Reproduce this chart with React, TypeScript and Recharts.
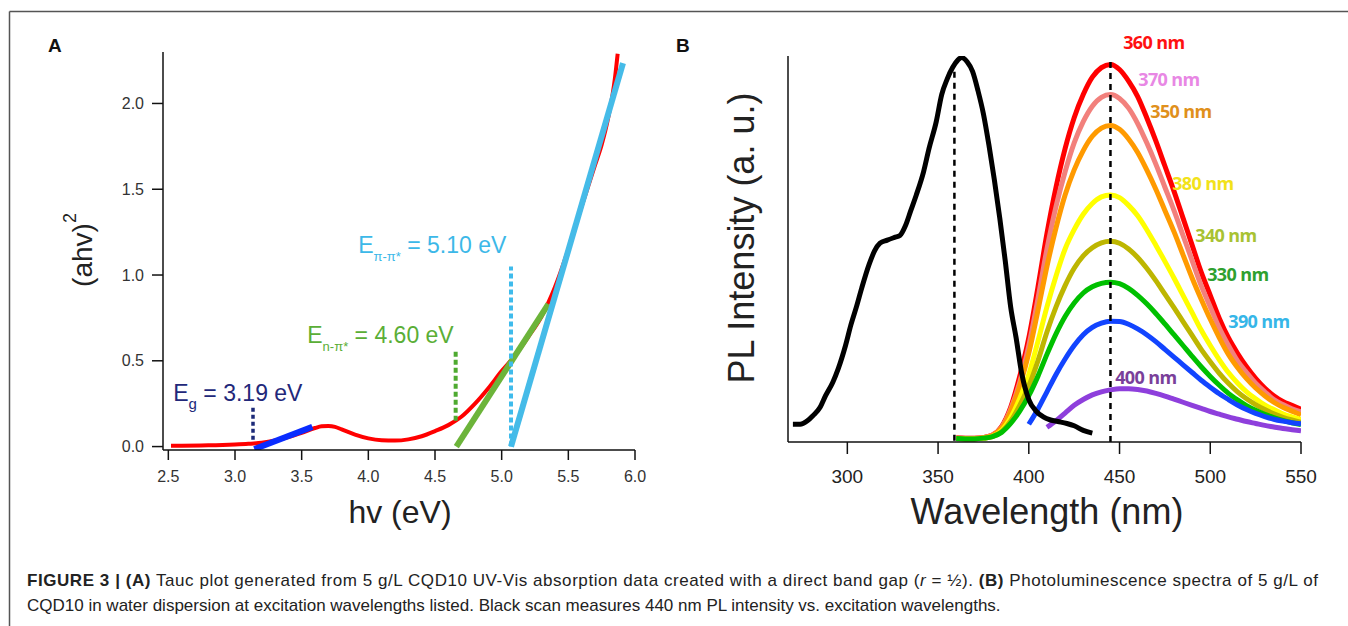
import React from 'react';
import { LineChart, Line, XAxis, YAxis, ReferenceLine, ReferenceDot, Label } from 'recharts';

// ---------- Panel A : Tauc plot ----------
const taucHv = [2.52, 2.6, 2.8, 3.0, 3.1, 3.2, 3.3, 3.4, 3.5, 3.6, 3.65, 3.7, 3.75, 3.8, 3.9, 4.0, 4.1, 4.2, 4.3, 4.4, 4.5, 4.6, 4.7, 4.8, 4.9, 5.0, 5.1, 5.2, 5.3, 5.4, 5.5, 5.6, 5.7, 5.75, 5.8, 5.85, 5.87];
const tauc = [0.005, 0.005, 0.007, 0.012, 0.016, 0.022, 0.035, 0.055, 0.08, 0.108, 0.118, 0.12, 0.115, 0.1, 0.07, 0.048, 0.037, 0.035, 0.042, 0.06, 0.09, 0.125, 0.175, 0.25, 0.34, 0.44, 0.53, 0.64, 0.76, 0.93, 1.15, 1.4, 1.64, 1.76, 1.92, 2.15, 2.29];
const fitGapHv = [3.145, 3.58];
const fitGap = [-0.015, 0.115];
const fitNPiHv = [4.66, 5.35];
const fitNPi = [0, 0.83];
const fitPiPiHv = [5.07, 5.91];
const fitPiPi = [0, 2.235];
const aTicksX = [2.5, 3.0, 3.5, 4.0, 4.5, 5.0, 5.5, 6.0];
const aTicksY = [0, 0.5, 1.0, 1.5, 2.0];

// ---------- Panel B : PL spectra ----------
const emWl = [360, 365, 370, 375, 380, 385, 390, 395, 400, 405, 410, 415, 420, 425, 430, 435, 440, 445, 450, 455, 460, 465, 470, 475, 480, 485, 490, 495, 500, 505, 510, 515, 520, 525, 530, 535, 540, 545, 550];
const ex360 = [1.1, 1.0, 1.0, 1.2, 1.8, 4.0, 9, 17, 27, 40, 54, 66, 76, 84, 90, 94.5, 97, 97.8, 96.5, 93.5, 89.5, 84, 78, 71.5, 65, 58, 51, 44, 38, 32, 27, 23, 19.5, 16.5, 14, 12, 10.5, 9.5, 8.5];
const ex370 = [1.1, 1.0, 1.0, 1.2, 1.8, 3.8, 8.5, 15.5, 25, 37, 50, 61, 70, 77.5, 83, 87, 89.3, 90, 89, 86.5, 82.5, 77.5, 72, 66, 60, 53.5, 47, 40.5, 35, 29.5, 25, 21, 18, 15.2, 13, 11, 9.7, 8.6, 7.8];
const ex350 = [1.0, 0.9, 0.9, 1.1, 1.7, 3.6, 8, 14.5, 23, 34, 45.5, 55.5, 64, 70.5, 75.5, 79.2, 81.3, 82, 81, 78.5, 75, 70.5, 65.5, 60, 54.5, 48.5, 42.5, 37, 31.8, 27, 22.7, 19.3, 16.4, 14, 12, 10.3, 9, 8, 7];
const ex380 = [0.9, 0.8, 0.8, 1.0, 1.5, 3.0, 6.3, 11.3, 17.5, 26, 35, 43, 50, 55, 59, 61.8, 63.5, 64, 63.3, 61.3, 58.6, 55, 51, 46.8, 42.5, 38, 33.5, 29, 25, 21.3, 18, 15.3, 13, 11.2, 9.6, 8.4, 7.3, 6.5, 5.8];
const ex340 = [0.9, 0.8, 0.8, 1.0, 1.4, 2.7, 5.4, 9.5, 14.5, 21, 28.5, 35, 40.5, 45, 48.2, 50.3, 51.6, 52, 51.5, 50, 47.8, 45, 41.8, 38.3, 34.8, 31.2, 27.6, 24, 20.8, 17.8, 15.2, 13, 11.2, 9.7, 8.4, 7.3, 6.4, 5.7, 5.1];
const ex330 = [0.9, 0.8, 0.8, 1.0, 1.4, 2.5, 4.8, 8, 12, 17, 22.7, 28, 32.5, 36, 38.6, 40.2, 41.1, 41.4, 41, 39.8, 38, 35.8, 33.3, 30.6, 27.8, 25, 22.2, 19.5, 17, 14.7, 12.6, 10.9, 9.4, 8.2, 7.2, 6.3, 5.6, 5, 4.5];
const ex390 = [null, null, null, null, null, null, null, null, 4.6, 8.5, 13, 17.5, 21.5, 25, 27.8, 29.7, 30.8, 31.3, 31.2, 30.5, 29.3, 27.8, 26, 24, 22, 20, 18, 16, 14.2, 12.5, 11, 9.6, 8.4, 7.4, 6.6, 5.9, 5.4, 5.0, 4.7];
const ex400 = [null, null, null, null, null, null, null, null, null, null, 3.8, 5.5, 7.5, 9.5, 11, 12.2, 13, 13.5, 13.8, 13.8, 13.6, 13.2, 12.6, 11.9, 11.1, 10.3, 9.5, 8.7, 7.9, 7.2, 6.5, 5.9, 5.3, 4.8, 4.3, 3.9, 3.5, 3.2, 2.9];
const excWl = [270, 274, 278, 281, 285, 288, 292, 295, 299, 302, 305, 308, 312, 315, 318, 322, 326, 329, 332, 335, 338, 342, 345, 349, 352, 355, 358, 361, 363, 366, 369, 372, 375, 378, 381, 384, 387, 390, 393, 396, 400, 404, 408, 412, 416, 421, 425, 430, 435];
const excScan = [4.6, 4.6, 5.5, 6.8, 9, 12, 15.5, 19, 25, 30.4, 35, 40, 46, 49.5, 51.5, 52.3, 53, 53.5, 56, 60, 64, 70, 76, 83, 90, 94, 97, 99, 99.6, 98.5, 96, 91, 85, 77, 68, 58, 47, 35, 27, 18, 11, 8, 6.5, 5.7, 5.3, 4.8, 4.2, 3, 2.3];
const bTicksX = [300, 350, 400, 450, 500, 550];

const seriesNames = ['360 nm', '370 nm', '350 nm', '380 nm', '340 nm', '330 nm', '390 nm', '400 nm'];
const seriesValues = [ex360, ex370, ex350, ex380, ex340, ex330, ex390, ex400];
const seriesColors = ['#ff0000', '#f2807c', '#ff9a00', '#ffff00', '#bdb600', '#00c000', '#1244ff', '#8e3fdc'];
const labelColors = ['#ff1010', '#e887e4', '#e0901c', '#f2e21a', '#a8c232', '#2ea02e', '#36b6e8', '#7a3f9a'];
// label anchor positions in data coordinates (wavelength, intensity)
const labelWl = [452.0, 460.3, 466.9, 479.0, 491.7, 498.3, 509.9, 447.6];
const labelY = [101.8, 92.2, 83.9, 65.3, 51.8, 41.7, 29.5, 15.0];

const FONT = '"Liberation Sans", Arial, Helvetica, sans-serif';

const toXY = (xs: number[], ys: (number | null)[]) => xs.map((x, i) => ({ x, y: ys[i] }));

const eLabel = (main: string, sub: string, rest: string, color: string, subSize: number, subDy: number) => (p: any) => (
  <text x={p.cx} y={p.cy} fill={color} fontSize={23} fontFamily={FONT}>
    <tspan>{main}</tspan>
    <tspan dy={subDy} fontSize={subSize}>{sub}</tspan>
    <tspan dy={-subDy}>{rest}</tspan>
  </text>
);

const nmLabel = (text: string, color: string) => (p: any) => (
  <text x={p.cx} y={p.cy} fill={color} fontSize={18} fontWeight={700} fontFamily='"Open Sans", "Noto Sans", sans-serif' letterSpacing={-0.6}>
    {text}
  </text>
);

function PanelA() {
  return (
    <LineChart width={680} height={560} margin={{ top: 52, right: 45, left: 103, bottom: 70 }}>
      <XAxis
        type="number"
        dataKey="x"
        domain={[2.46, 6.0]}
        ticks={aTicksX}
        tickFormatter={(v: number) => v.toFixed(1)}
        height={40}
        tickSize={10}
        tickMargin={11}
        axisLine={{ stroke: '#111', strokeWidth: 1.5 }}
        tickLine={{ stroke: '#111', strokeWidth: 1.5 }}
        tick={{ fontSize: 16, fill: '#333', fontFamily: FONT }}
        allowDataOverflow
      >
        <Label
          content={() => (
            <text x={400} y={523} textAnchor="middle" fontSize={32} fill="#222" fontFamily={FONT}>hv (eV)</text>
          )}
        />
      </XAxis>
      <YAxis
        type="number"
        domain={[-0.02, 2.3]}
        ticks={aTicksY}
        tickFormatter={(v: number) => v.toFixed(1)}
        width={60}
        tickSize={11}
        tickMargin={8}
        axisLine={{ stroke: '#111', strokeWidth: 1.5 }}
        tickLine={{ stroke: '#111', strokeWidth: 1.5 }}
        tick={{ fontSize: 16, fill: '#333', fontFamily: FONT }}
        allowDataOverflow
      >
        <Label
          content={() => (
            <text x={92} y={250} transform="rotate(-90, 92, 250)" textAnchor="middle" fontSize={28} fill="#222" fontFamily={FONT}>
              (ahv)<tspan dy={-16} fontSize={18}>2</tspan>
            </text>
          )}
        />
      </YAxis>
      <Line data={toXY(taucHv, tauc)} dataKey="y" type="monotone" stroke="#ff0000" strokeWidth={4} dot={false} isAnimationActive={false} />
      <Line data={toXY(fitGapHv, fitGap)} dataKey="y" type="linear" stroke="#0a2cff" strokeWidth={6} dot={false} isAnimationActive={false} />
      <Line data={toXY(fitNPiHv, fitNPi)} dataKey="y" type="linear" stroke="#6cb43a" strokeWidth={6} dot={false} isAnimationActive={false} />
      <Line data={toXY(fitPiPiHv, fitPiPi)} dataKey="y" type="linear" stroke="#45bbe8" strokeWidth={6} dot={false} isAnimationActive={false} />
      <ReferenceLine segment={[{ x: 3.135, y: 0.04 }, { x: 3.135, y: 0.227 }]} stroke="#1c2a78" strokeWidth={3.5} strokeDasharray="4 3" ifOverflow="visible" />
      <ReferenceLine segment={[{ x: 4.655, y: 0.15 }, { x: 4.655, y: 0.565 }]} stroke="#4eaa30" strokeWidth={4} strokeDasharray="5 3" ifOverflow="visible" />
      <ReferenceLine segment={[{ x: 5.07, y: 0.0 }, { x: 5.07, y: 1.05 }]} stroke="#3fbbec" strokeWidth={4} strokeDasharray="5 3" ifOverflow="visible" />
      <ReferenceDot x={2.537} y={0.267} r={0} ifOverflow="visible" shape={eLabel('E', 'g', ' = 3.19 eV', '#22287a', 15, 8)} />
      <ReferenceDot x={3.542} y={0.605} r={0} ifOverflow="visible" shape={eLabel('E', 'n-\u03c0*', ' = 4.60 eV', '#5aae36', 13, 8)} />
      <ReferenceDot x={3.924} y={1.128} r={0} ifOverflow="visible" shape={eLabel('E', '\u03c0-\u03c0*', ' = 5.10 eV', '#3cb8e8', 13, 8)} />
    </LineChart>
  );
}

function PanelB() {
  return (
    <LineChart width={668} height={560} margin={{ top: 56, right: 47, left: 48, bottom: 78 }}>
      <XAxis
        type="number"
        dataKey="x"
        domain={[267.3, 550]}
        ticks={bTicksX}
        height={40}
        tickSize={12}
        tickMargin={16}
        axisLine={{ stroke: '#111', strokeWidth: 1.5 }}
        tickLine={{ stroke: '#111', strokeWidth: 1.5 }}
        tick={{ fontSize: 19, fill: '#222', fontFamily: FONT }}
        allowDataOverflow
      >
        <Label
          content={() => (
            <text x={367} y={524} textAnchor="middle" fontSize={36} fill="#222" fontFamily={FONT}>Wavelength (nm)</text>
          )}
        />
      </XAxis>
      <YAxis
        type="number"
        domain={[0, 100]}
        width={60}
        tick={false}
        tickLine={false}
        axisLine={{ stroke: '#111', strokeWidth: 1.5 }}
        allowDataOverflow
      >
        <Label
          content={() => (
            <text x={73.5} y={238} transform="rotate(-90, 73.5, 238)" textAnchor="middle" fontSize={36} fill="#222" fontFamily={FONT}>PL Intensity (a. u.)</text>
          )}
        />
      </YAxis>
      {seriesValues.map((vals, i) => (
        <Line
          key={seriesNames[i]}
          data={toXY(emWl, vals)}
          dataKey="y"
          name={seriesNames[i]}
          type="monotone"
          stroke={seriesColors[i]}
          strokeWidth={5}
          dot={false}
          connectNulls={false}
          isAnimationActive={false}
        />
      ))}
      <Line data={toXY(excWl, excScan)} dataKey="y" type="monotone" stroke="#000" strokeWidth={5} dot={false} isAnimationActive={false} />
      <ReferenceLine segment={[{ x: 359, y: 0.3 }, { x: 359, y: 97.8 }]} stroke="#000" strokeWidth={2.5} strokeDasharray="6 5" ifOverflow="visible" />
      <ReferenceLine segment={[{ x: 445, y: 0 }, { x: 445, y: 98.6 }]} stroke="#000" strokeWidth={2.5} strokeDasharray="6 5" ifOverflow="visible" />
      {seriesNames.map((n, i) => (
        <ReferenceDot key={'l' + n} x={labelWl[i]} y={labelY[i]} r={0} ifOverflow="visible" shape={nmLabel(n, labelColors[i])} />
      ))}
    </LineChart>
  );
}

export default function App() {
  return (
    <div style={{ position: 'absolute', left: 0, top: 0, width: 1348, height: 626, background: '#fff', overflow: 'hidden' }}>
      <svg width={1348} height={626} style={{ position: 'absolute', left: 0, top: 0 }}>
        <line x1={9.5} y1={11.5} x2={1348} y2={11.5} stroke="#555" strokeWidth={1.5} />
        <line x1={9.5} y1={11.5} x2={9.5} y2={626} stroke="#555" strokeWidth={1.5} />
        <text x={48} y={52} fontSize={19} fontWeight={700} fontFamily={FONT} fill="#111">A</text>
        <text x={676} y={52} fontSize={19} fontWeight={700} fontFamily={FONT} fill="#111">B</text>
        <text x={27} y={586} fontSize={17} fontFamily={FONT} fill="#222" textLength={1291} lengthAdjust="spacing">
          <tspan fontWeight={700}>FIGURE 3 | (A)</tspan>
          <tspan> Tauc plot generated from 5 g/L CQD10 UV-Vis absorption data created with a direct band gap (</tspan>
          <tspan fontStyle="italic">r</tspan>
          <tspan> = ½). </tspan>
          <tspan fontWeight={700}>(B)</tspan>
          <tspan> Photoluminescence spectra of 5 g/L of</tspan>
        </text>
        <text x={27} y={611} fontSize={17} fontFamily={FONT} fill="#222">
          CQD10 in water dispersion at excitation wavelengths listed. Black scan measures 440 nm PL intensity vs. excitation wavelengths.
        </text>
      </svg>
      <div style={{ position: 'absolute', left: 0, top: 0 }}>
        <PanelA />
      </div>
      <div style={{ position: 'absolute', left: 680, top: 0 }}>
        <PanelB />
      </div>
    </div>
  );
}
